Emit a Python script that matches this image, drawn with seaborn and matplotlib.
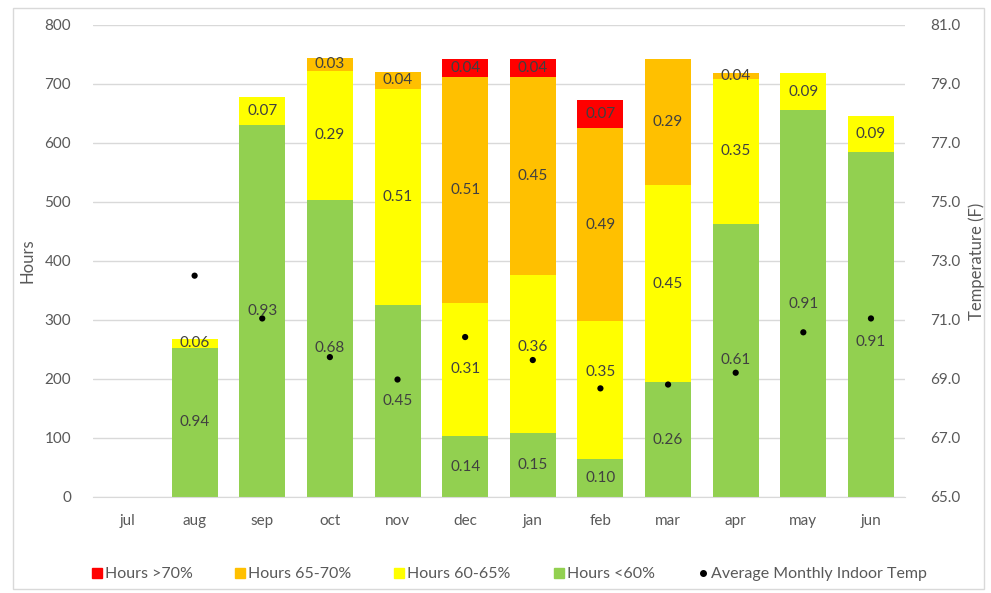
import numpy as np
import pandas as pd
import seaborn as sns
import matplotlib.pyplot as plt
from matplotlib.patches import Rectangle
from matplotlib.lines import Line2D

# monthly hours in each humidity band + average indoor temperature
months = ['jul', 'aug', 'sep', 'oct', 'nov', 'dec', 'jan', 'feb', 'mar', 'apr', 'may', 'jun']
hrs_lt60 = [0, 253, 630, 504, 325, 103, 109, 65, 194, 463, 655, 585]
hrs_60_65 = [0, 15, 47, 218, 366, 226, 267, 233, 334, 245, 64, 61]
hrs_65_70 = [0, 0, 0, 22, 30, 383, 336, 327, 215, 11, 0, 0]
hrs_gt70 = [0, 0, 0, 0, 0, 31, 31, 48, 0, 0, 0, 0]

# fractions printed on the segments
lab_lt60 = ['', '0.94', '0.93', '0.68', '0.45', '0.14', '0.15', '0.10', '0.26', '0.61', '0.91', '0.91']
lab_60_65 = ['', '0.06', '0.07', '0.29', '0.51', '0.31', '0.36', '0.35', '0.45', '0.35', '0.09', '0.09']
lab_65_70 = ['', '', '', '0.03', '0.04', '0.51', '0.45', '0.49', '0.29', '0.04', '', '']
lab_gt70 = ['', '', '', '', '', '0.04', '0.04', '0.07', '', '', '', '']

avg_temp = [np.nan, 72.5, 71.05, 69.74, 68.98, 70.42, 69.64, 68.68, 68.81, 69.21, 70.58, 71.05]

c_red, c_orange, c_yellow, c_green = '#FF0000', '#FFC000', '#FFFF00', '#92D050'
grey = '#595959'

sns.set_style('white')
plt.rcParams['font.family'] = ['Lato', 'DejaVu Sans']

df = pd.DataFrame({'month': months, 'g': hrs_lt60, 'y': hrs_60_65,
                   'o': hrs_65_70, 'r': hrs_gt70, 'temp': avg_temp})
df['cum_g'] = df['g']
df['cum_y'] = df['cum_g'] + df['y']
df['cum_o'] = df['cum_y'] + df['o']
df['cum_r'] = df['cum_o'] + df['r']

fig = plt.figure(figsize=(9.91, 5.93), dpi=100)
ax = fig.add_axes([0.094, 0.162, 0.819, 0.796])

# stacked bars: draw cumulative totals, biggest first
for col, colr in [('cum_r', c_red), ('cum_o', c_orange), ('cum_y', c_yellow), ('cum_g', c_green)]:
    sns.barplot(data=df, x='month', y=col, color=colr, saturation=1, width=0.68,
                errorbar=None, order=months, ax=ax, linewidth=0)

# segment labels (a few were nudged off the dots in the original)
nudge = {('jan', 1): 12, ('feb', 1): 30, ('jun', 0): -30}
segs = [(hrs_lt60, lab_lt60, df['cum_g'] - df['g']),
        (hrs_60_65, lab_60_65, df['cum_y'] - df['y']),
        (hrs_65_70, lab_65_70, df['cum_o'] - df['o']),
        (hrs_gt70, lab_gt70, df['cum_r'] - df['r'])]
for k, (vals, labs, base) in enumerate(segs):
    for i, (v, t, b) in enumerate(zip(vals, labs, base)):
        if t:
            yy = b + v / 2 + nudge.get((months[i], k), 0)
            ax.text(i, yy, t, ha='center', va='center', fontsize=11, color='#404040')

ax.set_xlim(-0.5, len(months) - 0.5)
ax.set_ylim(0, 800)
ax.set_yticks(range(0, 801, 100))
ax.grid(axis='y', color='#D9D9D9', linewidth=1)
ax.set_axisbelow(True)
ax.set_xlabel('')
ax.set_ylabel('Hours', fontsize=12, color=grey, labelpad=6)
ax.tick_params(axis='both', length=0, labelsize=11, labelcolor=grey)
ax.tick_params(axis='y', pad=16)
ax.tick_params(axis='x', pad=12)
for s in ax.spines.values():
    s.set_visible(False)
ax.spines['bottom'].set_visible(True)
ax.spines['bottom'].set_color('#D9D9D9')

# temperature dots on the secondary axis
ax2 = ax.twinx()
sns.scatterplot(x=np.arange(len(months)), y=avg_temp, color='black', s=20,
                edgecolor='none', ax=ax2, zorder=5)
ax2.set_ylim(65, 81)
ax2.set_yticks(np.arange(65, 81.1, 2))
ax2.set_yticklabels([f'{t:.1f}' for t in np.arange(65, 81.1, 2)])
ax2.set_ylabel('Temperature (F)', fontsize=12, color=grey, labelpad=6)
ax2.tick_params(axis='y', length=0, labelsize=11, labelcolor=grey, pad=18)
for s in ax2.spines.values():
    s.set_visible(False)
ax2.grid(False)

handles = [Line2D([], [], marker='s', ls='', color=c_red, markersize=7),
           Line2D([], [], marker='s', ls='', color=c_orange, markersize=7),
           Line2D([], [], marker='s', ls='', color=c_yellow, markersize=7),
           Line2D([], [], marker='s', ls='', color=c_green, markersize=7),
           Line2D([], [], marker='o', ls='', color='black', markersize=4)]
names = ['Hours >70%', 'Hours 65-70%', 'Hours 60-65%', 'Hours <60%', 'Average Monthly Indoor Temp']
fig.legend(handles, names, loc='center', bbox_to_anchor=(0.513, 0.032), ncol=5, frameon=False,
           fontsize=11.5, labelcolor=grey, handletextpad=0.1, columnspacing=2.6, handlelength=0.8)

# outer chart border
fig.patches.append(Rectangle((0.013, 0.006), 0.98, 0.98, transform=fig.transFigure,
                             fill=False, edgecolor='#D9D9D9', linewidth=1))

fig.savefig('out.png', dpi=100)
